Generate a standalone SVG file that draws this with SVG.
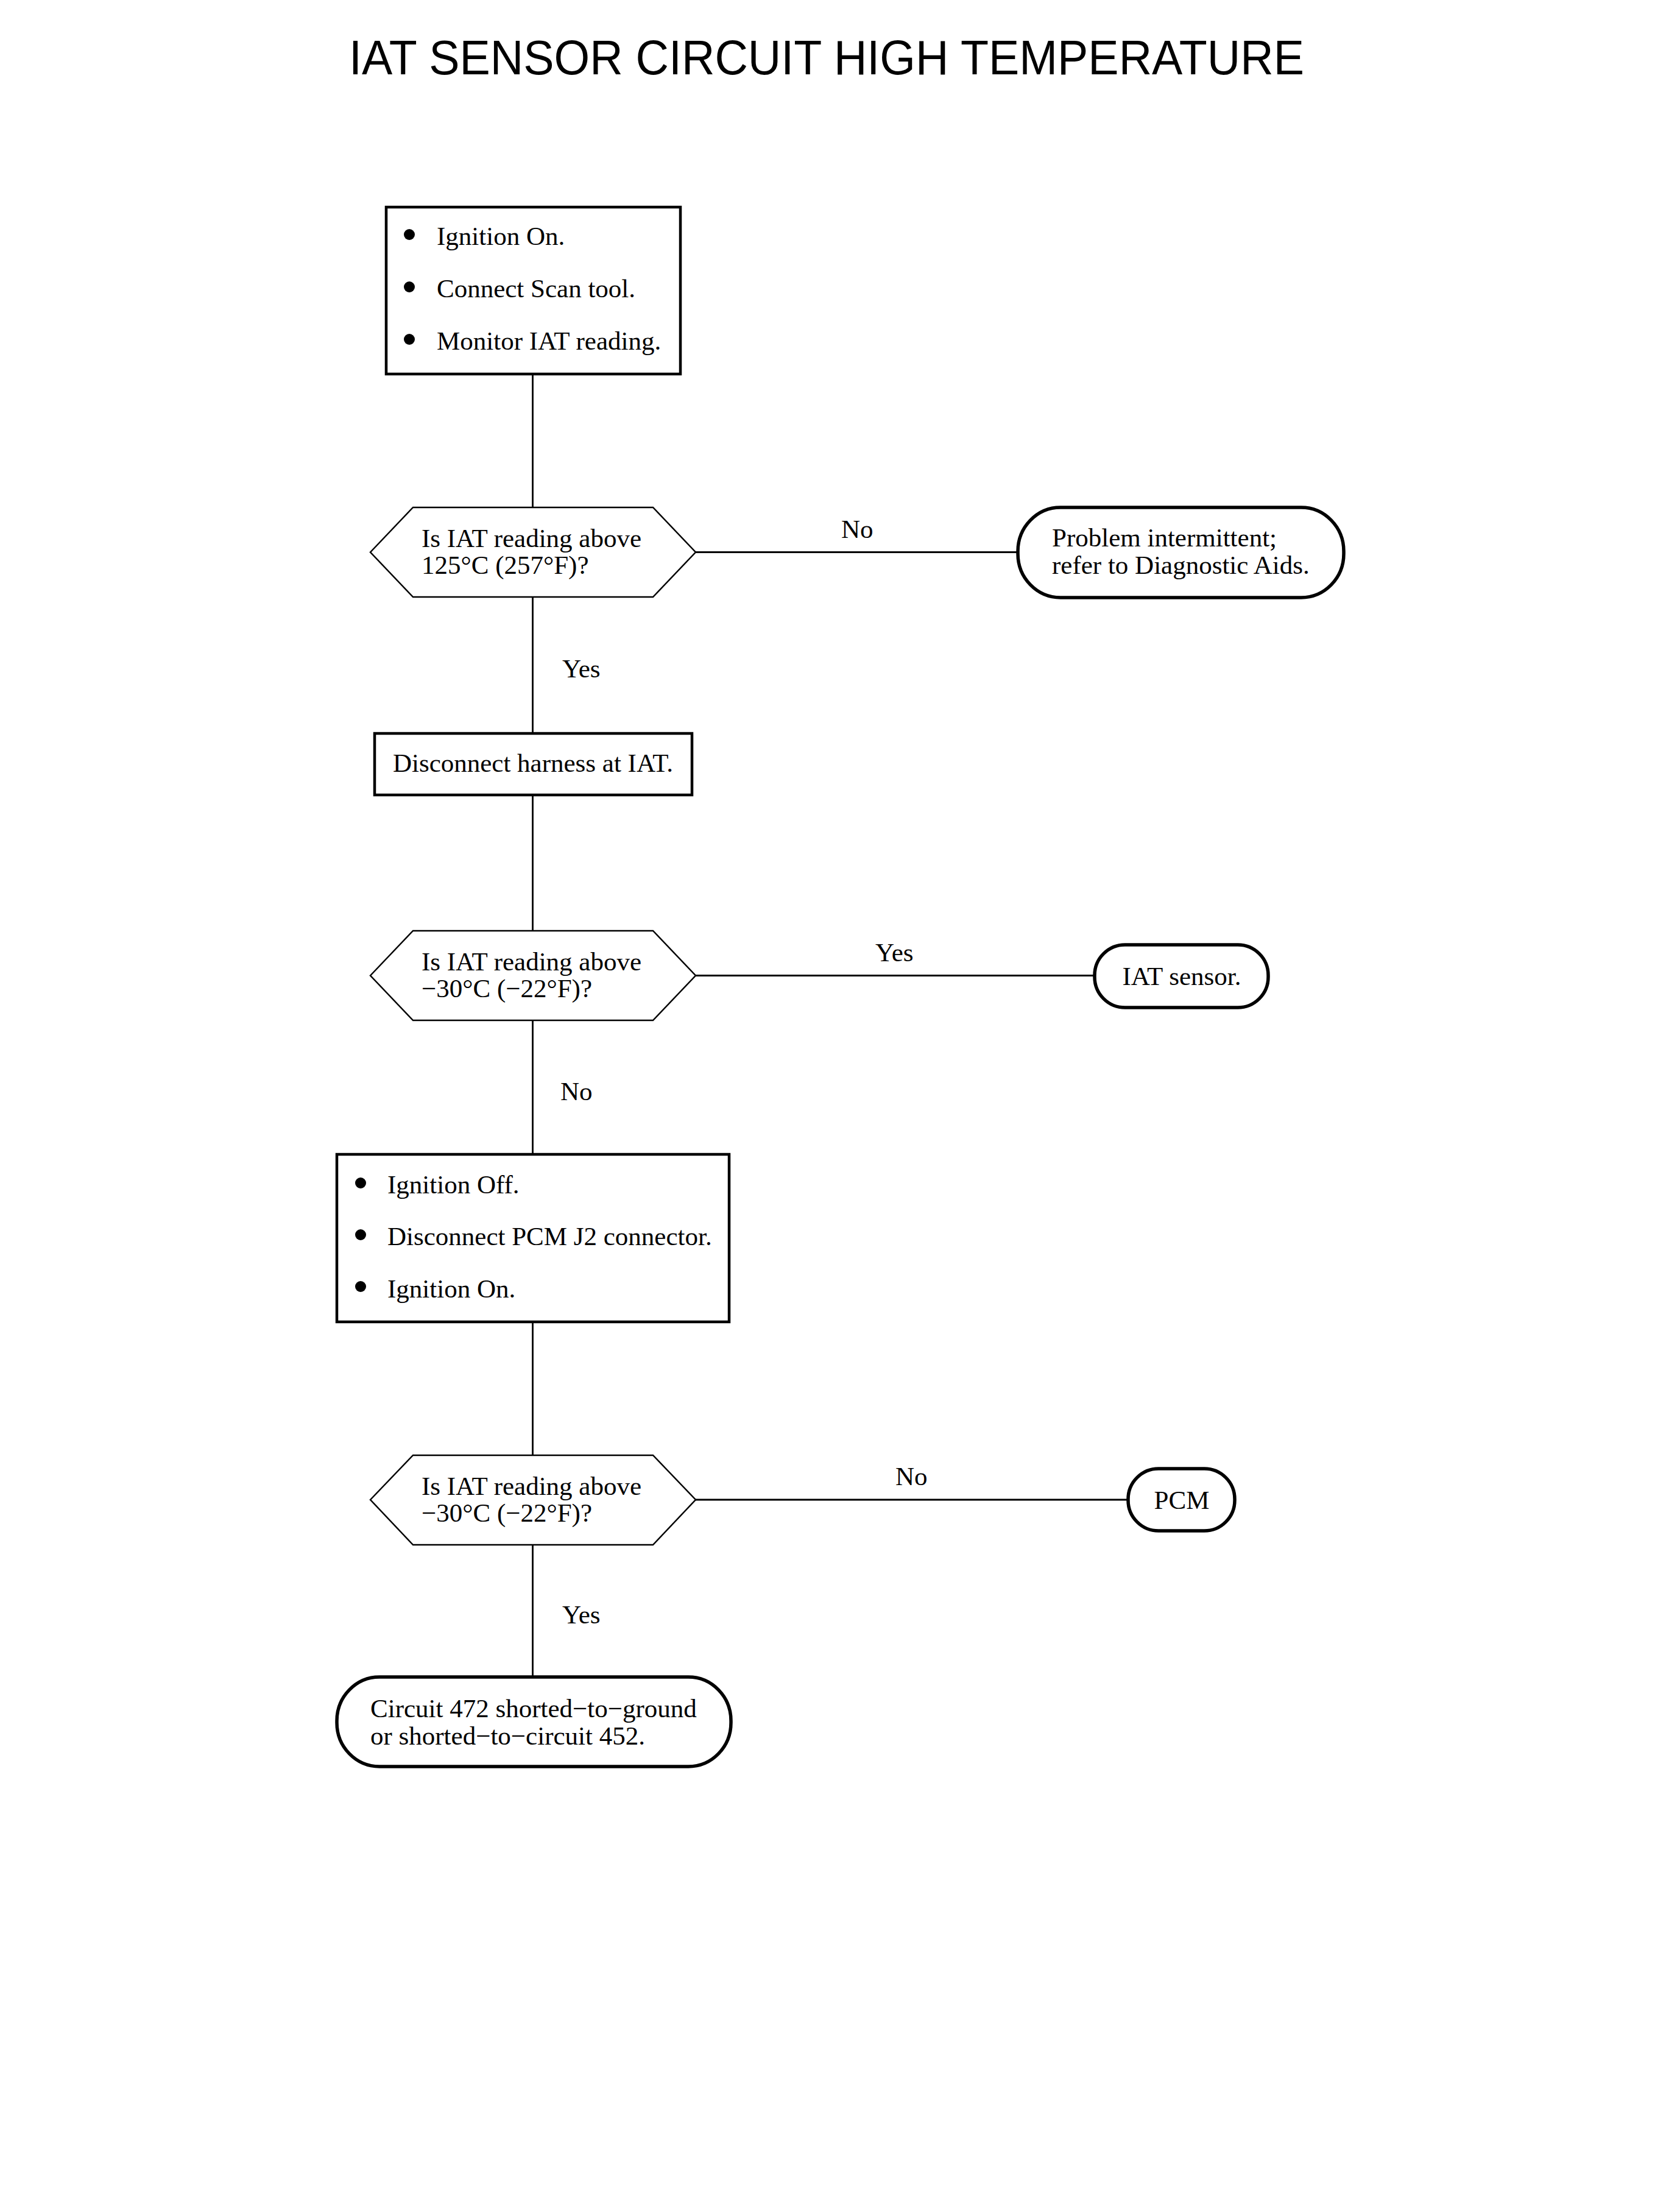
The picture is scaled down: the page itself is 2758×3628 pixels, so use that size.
<svg xmlns="http://www.w3.org/2000/svg" width="2758" height="3628" viewBox="0 0 2758 3628">
<style>
.t{font-family:"Liberation Serif","Times New Roman",serif;font-size:43px;fill:#000}
.c{text-anchor:middle}
.box{fill:#fff;stroke:#000;stroke-width:4.5}
.rbox{fill:#fff;stroke:#000;stroke-width:5.5}
.hex{fill:#fff;stroke:#000;stroke-width:2.5;stroke-linejoin:miter}
.ln{stroke:#000;stroke-width:2.8;fill:none}
.title{font-family:"Liberation Sans",Arial,sans-serif;font-size:79px;fill:#000}
</style>
<rect width="2758" height="3628" fill="#fff"/>
<text class="title" x="573" y="122" textLength="1568" lengthAdjust="spacingAndGlyphs">IAT SENSOR CIRCUIT HIGH TEMPERATURE</text>
<g id="connectors">
<line class="ln" x1="874.5" y1="614" x2="874.5" y2="833"/>
<line class="ln" x1="874.5" y1="980" x2="874.5" y2="1204"/>
<line class="ln" x1="874.5" y1="1305" x2="874.5" y2="1528"/>
<line class="ln" x1="874.5" y1="1675" x2="874.5" y2="1895"/>
<line class="ln" x1="874.5" y1="2170" x2="874.5" y2="2389"/>
<line class="ln" x1="874.5" y1="2536" x2="874.5" y2="2753"/>
<line class="ln" x1="1142" y1="906.5" x2="1671" y2="906.5"/>
<line class="ln" x1="1142" y1="1601.5" x2="1797" y2="1601.5"/>
<line class="ln" x1="1142" y1="2462" x2="1852" y2="2462"/>
<text class="t" x="923" y="1112">Yes</text>
<text class="t" x="1381" y="883">No</text>
<text class="t" x="1437" y="1578">Yes</text>
<text class="t" x="920" y="1806">No</text>
<text class="t" x="1470" y="2438">No</text>
<text class="t" x="923" y="2665">Yes</text>
</g>
<g id="n1">
<rect class="box" x="634" y="340" width="483" height="274"/>
<circle cx="672" cy="385" r="9"/>
<circle cx="672" cy="471" r="9"/>
<circle cx="672" cy="557" r="9"/>
<text class="t" x="717" y="402">Ignition On.</text>
<text class="t" x="717" y="488">Connect Scan tool.</text>
<text class="t" x="717" y="574">Monitor IAT reading.</text>
</g>
<g id="d1">
<polygon class="hex" points="608,906.5 678,833 1072,833 1142,906.5 1072,980 678,980"/>
<text class="t" x="692" y="898">Is IAT reading above</text>
<text class="t" x="692" y="942">125°C (257°F)?</text>
</g>
<g id="e1">
<rect class="rbox" x="1671" y="833" width="535" height="148" rx="70" ry="72"/>
<text class="t" x="1727" y="897">Problem intermittent;</text>
<text class="t" x="1727" y="942">refer to Diagnostic Aids.</text>
</g>
<g id="n2">
<rect class="box" x="615" y="1204" width="521" height="101"/>
<text class="t c" x="875" y="1267">Disconnect harness at IAT.</text>
</g>
<g id="d2">
<polygon class="hex" points="608,1601.5 678,1528 1072,1528 1142,1601.5 1072,1675 678,1675"/>
<text class="t" x="692" y="1593">Is IAT reading above</text>
<text class="t" x="692" y="1637">−30°C (−22°F)?</text>
</g>
<g id="e2">
<rect class="rbox" x="1797" y="1551" width="285" height="103" rx="50" ry="50"/>
<text class="t c" x="1940" y="1617">IAT sensor.</text>
</g>
<g id="n3">
<rect class="box" x="553" y="1895" width="644" height="275"/>
<circle cx="592" cy="1942" r="9"/>
<circle cx="592" cy="2027" r="9"/>
<circle cx="592" cy="2112" r="9"/>
<text class="t" x="636" y="1959">Ignition Off.</text>
<text class="t" x="636" y="2044">Disconnect PCM J2 connector.</text>
<text class="t" x="636" y="2130">Ignition On.</text>
</g>
<g id="d3">
<polygon class="hex" points="608,2462 678,2389 1072,2389 1142,2462 1072,2536 678,2536"/>
<text class="t" x="692" y="2454">Is IAT reading above</text>
<text class="t" x="692" y="2498">−30°C (−22°F)?</text>
</g>
<g id="e3">
<rect class="rbox" x="1852" y="2411" width="175" height="102" rx="50" ry="50"/>
<text class="t c" x="1940" y="2477">PCM</text>
</g>
<g id="e4">
<rect class="rbox" x="553" y="2753" width="647" height="147" rx="70" ry="72"/>
<text class="t" x="608" y="2819">Circuit 472 shorted−to−ground</text>
<text class="t" x="608" y="2864">or shorted−to−circuit 452.</text>
</g>
</svg>
